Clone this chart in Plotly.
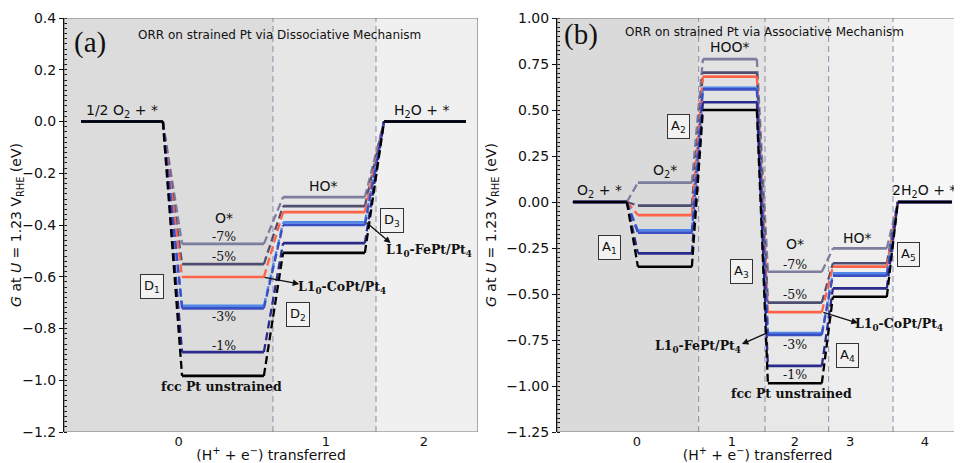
import plotly.graph_objects as go

# ---------------- data ----------------
series_names = ["-7%", "-5%", "L1_0-CoPt/Pt4", "L1_0-FePt/Pt4", "-3%", "-1%", "fcc Pt unstrained"]
series_colors = ["#7d7d9e", "#4e4e70", "#ff6347", "#4f86e8", "#3b4fc4", "#2a2a8c", "#000000"]

# Dissociative: 1/2 O2 + *, O*, HO*, H2O + *
diss_states = ["1/2 O2 + *", "O*", "HO*", "H2O + *"]
diss_m7 = [0.0, -0.473, -0.292, 0.0]
diss_m5 = [0.0, -0.551, -0.327, 0.0]
diss_copt = [0.0, -0.601, -0.350, 0.0]
diss_fept = [0.0, -0.712, -0.390, 0.0]
diss_m3 = [0.0, -0.722, -0.400, 0.0]
diss_m1 = [0.0, -0.891, -0.470, 0.0]
diss_fcc = [0.0, -0.983, -0.508, 0.0]

# Associative: O2 + *, O2*, HOO*, O*, HO*, 2H2O + *
asso_states = ["O2 + *", "O2*", "HOO*", "O*", "HO*", "2H2O + *"]
asso_m7 = [0.0, 0.105, 0.777, -0.379, -0.252, 0.0]
asso_m5 = [0.0, -0.020, 0.703, -0.547, -0.333, 0.0]
asso_copt = [0.0, -0.071, 0.681, -0.598, -0.351, 0.0]
asso_fept = [0.0, -0.154, 0.621, -0.712, -0.388, 0.0]
asso_m3 = [0.0, -0.167, 0.612, -0.722, -0.400, 0.0]
asso_m1 = [0.0, -0.279, 0.542, -0.891, -0.469, 0.0]
asso_fcc = [0.0, -0.352, 0.500, -0.985, -0.515, 0.0]

diss_ticks = ["0", "1", "2"]
asso_ticks = ["0", "1", "2", "3", "4"]

diss_values = [diss_m7, diss_m5, diss_copt, diss_fept, diss_m3, diss_m1, diss_fcc]
asso_values = [asso_m7, asso_m5, asso_copt, asso_fept, asso_m3, asso_m1, asso_fcc]

# ---------------- figure ----------------
OFF = 8  # default page body margin
W, H = 962 - OFF, 463 - OFF
fig = go.Figure()

def add_diagram(values_list, hw, xa, ya):
    for vals, col, name in zip(values_list, series_colors, series_names):
        lx, ly, cx, cy = [], [], [], []
        for i, v in enumerate(vals):
            lx += [i - hw, i + hw, None]
            ly += [v, v, None]
            if i < len(vals) - 1:
                cx += [i + hw, i + 1 - hw, None]
                cy += [v, vals[i + 1], None]
        fig.add_trace(go.Scatter(x=cx, y=cy, mode="lines", xaxis=xa, yaxis=ya,
                                 line=dict(color=col, width=2.3, dash="8px,4px"),
                                 showlegend=False, hoverinfo="skip"))
        fig.add_trace(go.Scatter(x=lx, y=ly, mode="lines", xaxis=xa, yaxis=ya,
                                 line=dict(color=col, width=2.7), name=name,
                                 showlegend=False))

add_diagram(diss_values, 0.405, "x", "y")
add_diagram(asso_values, 0.415, "x2", "y2")

def px_x(p):
    return (p - OFF) / W

def px_y(p):
    return 1 - (p - OFF) / H

dom_a = [px_x(64), px_x(478)]
dom_b = [px_x(557), min(1.0, px_x(958))]
dom_y = [px_y(432), px_y(18)]

tickfont = dict(family="DejaVu Sans", size=14, color="#111")
xtickfont = dict(family="DejaVu Sans", size=13, color="#111")
xtitle = dict(text="(H<sup>+</sup> + e<sup>−</sup>) transferred",
              font=dict(family="DejaVu Sans", size=14, color="#111"), standoff=2)
ytitle = dict(text="<i>G</i> at <i>U</i> = 1.23 V<sub>RHE</sub> (eV)",
              font=dict(family="DejaVu Sans", size=14, color="#111"), standoff=6)

fig.update_layout(
    width=W, height=H, margin=dict(l=0, r=0, t=0, b=0, autoexpand=False),
    paper_bgcolor="white", plot_bgcolor="rgba(0,0,0,0)",
    xaxis=dict(domain=dom_a, range=[-0.574, 3.525], tickvals=[0.56, 2.02, 2.99],
               ticktext=diss_ticks, showgrid=False, zeroline=False, ticks="",
               tickfont=xtickfont, title=xtitle, showline=False, anchor="y",
               automargin=False),
    yaxis=dict(domain=dom_y, range=[-1.2, 0.4], dtick=0.2, tickformat=".1f",
               showgrid=False, zeroline=False, ticks="outside", ticklen=4,
               tickcolor="#111", showline=True, linecolor="#111", linewidth=1,
               minor=dict(ticks="inside", ticklen=3, dtick=0.02, tickcolor="#111"),
               tickfont=tickfont, title=ytitle, anchor="x", automargin=False),
    xaxis2=dict(domain=dom_b, range=[-0.66, 5.51], tickvals=[0.57, 2.03, 3.0, 3.85, 5.0],
                ticktext=asso_ticks, showgrid=False, zeroline=False, ticks="",
                tickfont=xtickfont, title=xtitle, showline=False, anchor="y2",
                automargin=False),
    yaxis2=dict(domain=dom_y, range=[-1.25, 1.0], dtick=0.25, tickformat=".2f",
                showgrid=False, zeroline=False, ticks="outside", ticklen=4,
                tickcolor="#111", showline=True, linecolor="#111", linewidth=1,
                minor=dict(ticks="inside", ticklen=3, dtick=0.025, tickcolor="#111"),
                tickfont=tickfont, title=ytitle, anchor="x2", automargin=False),
)

shapes = []
def regions(xref, yref, bounds, colors, lo, hi):
    for (a, b), c in zip(zip(bounds[:-1], bounds[1:]), colors):
        shapes.append(dict(type="rect", xref=xref, yref=yref, x0=a, x1=b, y0=lo, y1=hi,
                           fillcolor=c, line=dict(width=0), layer="below"))
    for xv in bounds[1:-1]:
        shapes.append(dict(type="line", xref=xref, yref=yref, x0=xv, x1=xv, y0=lo, y1=hi,
                           line=dict(color="#8a8aa6", width=1, dash="6px,4px"), layer="below"))
    shapes.append(dict(type="rect", xref=xref, yref=yref, x0=bounds[0], x1=bounds[-1],
                       y0=lo, y1=hi, line=dict(color="#777", width=1.2), layer="above"))

regions("x", "y", [-0.574, 1.495, 2.515, 3.525], ["#dcdcdc", "#e6e6e6", "#f0f0f0"], -1.2, 0.4)
regions("x2", "y2", [-0.66, 1.52, 2.54, 3.52, 4.51, 5.51],
        ["#dadada", "#e3e3e3", "#e8e8e8", "#eeeeee", "#f6f6f6"], -1.25, 1.0)
fig.update_layout(shapes=shapes)

ann = []
sans = dict(family="DejaVu Sans", size=14, color="#111")
serifb = dict(family="DejaVu Serif", size=12.5, color="#111")

def txt(x, y, t, xref, yref, font, **kw):
    d = dict(x=x, y=y, text=t, xref=xref, yref=yref, showarrow=False, font=font)
    d.update(kw)
    ann.append(d)

def box(x, y, t, xref, yref):
    ann.append(dict(x=x, y=y, text=t, xref=xref, yref=yref, showarrow=False,
                    font=dict(family="DejaVu Sans", size=13, color="#111"),
                    bordercolor="#333", borderwidth=1, borderpad=3, bgcolor="#f2f2f2"))

def arrow(hx, hy, tx, ty, xref, yref):
    ann.append(dict(x=hx, y=hy, ax=tx, ay=ty, xref=xref, yref=yref, axref=xref, ayref=yref,
                    text="", showarrow=True, arrowhead=2, arrowsize=1, arrowwidth=1.3,
                    arrowcolor="#111"))

# panel (a)
txt(-0.317, 0.307, "(a)", "x", "y", dict(family="Liberation Serif", size=29, color="#111"))
txt(1.564, 0.334, "ORR on strained Pt via Dissociative Mechanism", "x", "y",
    dict(family="DejaVu Sans", size=12, color="#111"))
txt(0.0, 0.040, "1/2 O<sub>2</sub> + *", "x", "y", sans)
txt(2.97, 0.040, "H<sub>2</sub>O + *", "x", "y", sans)
txt(2.0, -0.249, "HO*", "x", "y", sans)
txt(1.01, -0.373, "O*", "x", "y", sans)
txt(1.01, -0.443, "-7%", "x", "y", serifb)
txt(1.01, -0.520, "-5%", "x", "y", serifb)
txt(1.01, -0.752, "-3%", "x", "y", serifb)
txt(1.01, -0.864, "-1%", "x", "y", serifb)
txt(0.99, -1.026, "<b>fcc Pt unstrained</b>", "x", "y", serifb)
box(0.297, -0.636, "D<sub>1</sub>", "x", "y")
box(1.743, -0.744, "D<sub>2</sub>", "x", "y")
box(2.673, -0.381, "D<sub>3</sub>", "x", "y")
txt(3.04, -0.497, "<b>L1<sub>0</sub>-FePt/Pt<sub>4</sub></b>", "x", "y", serifb)
arrow(2.66, -0.470, 2.406, -0.385, "x", "y")
txt(2.18, -0.643, "<b>L1<sub>0</sub>-CoPt/Pt<sub>4</sub></b>", "x", "y", serifb)
arrow(1.755, -0.628, 1.396, -0.601, "x", "y")

# panel (b)
txt(-0.29, 0.913, "(b)", "x2", "y2", dict(family="Liberation Serif", size=29, color="#111"))
txt(2.54, 0.924, "ORR on strained Pt via Associative Mechanism", "x2", "y2",
    dict(family="DejaVu Sans", size=12, color="#111"))
txt(2.0, 0.842, "HOO*", "x2", "y2", sans)
txt(1.0, 0.168, "O<sub>2</sub>*", "x2", "y2", sans)
txt(0.0, 0.06, "O<sub>2</sub> + *", "x2", "y2", sans)
txt(4.98, 0.06, "2H<sub>2</sub>O + *", "x2", "y2", sans)
txt(3.0, -0.228, "O*", "x2", "y2", sans)
txt(3.97, -0.196, "HO*", "x2", "y2", sans)
box(1.215, 0.413, "A<sub>2</sub>", "x2", "y2")
box(0.154, -0.245, "A<sub>1</sub>", "x2", "y2")
box(2.185, -0.380, "A<sub>3</sub>", "x2", "y2")
box(4.754, -0.283, "A<sub>5</sub>", "x2", "y2")
box(3.815, -0.832, "A<sub>4</sub>", "x2", "y2")
txt(3.0, -0.337, "-7%", "x2", "y2", serifb)
txt(3.0, -0.505, "-5%", "x2", "y2", serifb)
txt(3.0, -0.772, "-3%", "x2", "y2", serifb)
txt(3.0, -0.940, "-1%", "x2", "y2", serifb)
txt(2.95, -1.043, "<b>fcc Pt unstrained</b>", "x2", "y2", serifb)
txt(1.508, -0.788, "<b>L1<sub>0</sub>-FePt/Pt<sub>4</sub></b>", "x2", "y2", serifb)
arrow(2.185, -0.772, 2.57, -0.712, "x2", "y2")
txt(4.6, -0.668, "<b>L1<sub>0</sub>-CoPt/Pt<sub>4</sub></b>", "x2", "y2", serifb)
arrow(3.97, -0.658, 3.415, -0.598, "x2", "y2")

fig.update_layout(annotations=ann)
fig.write_html("out.html")
